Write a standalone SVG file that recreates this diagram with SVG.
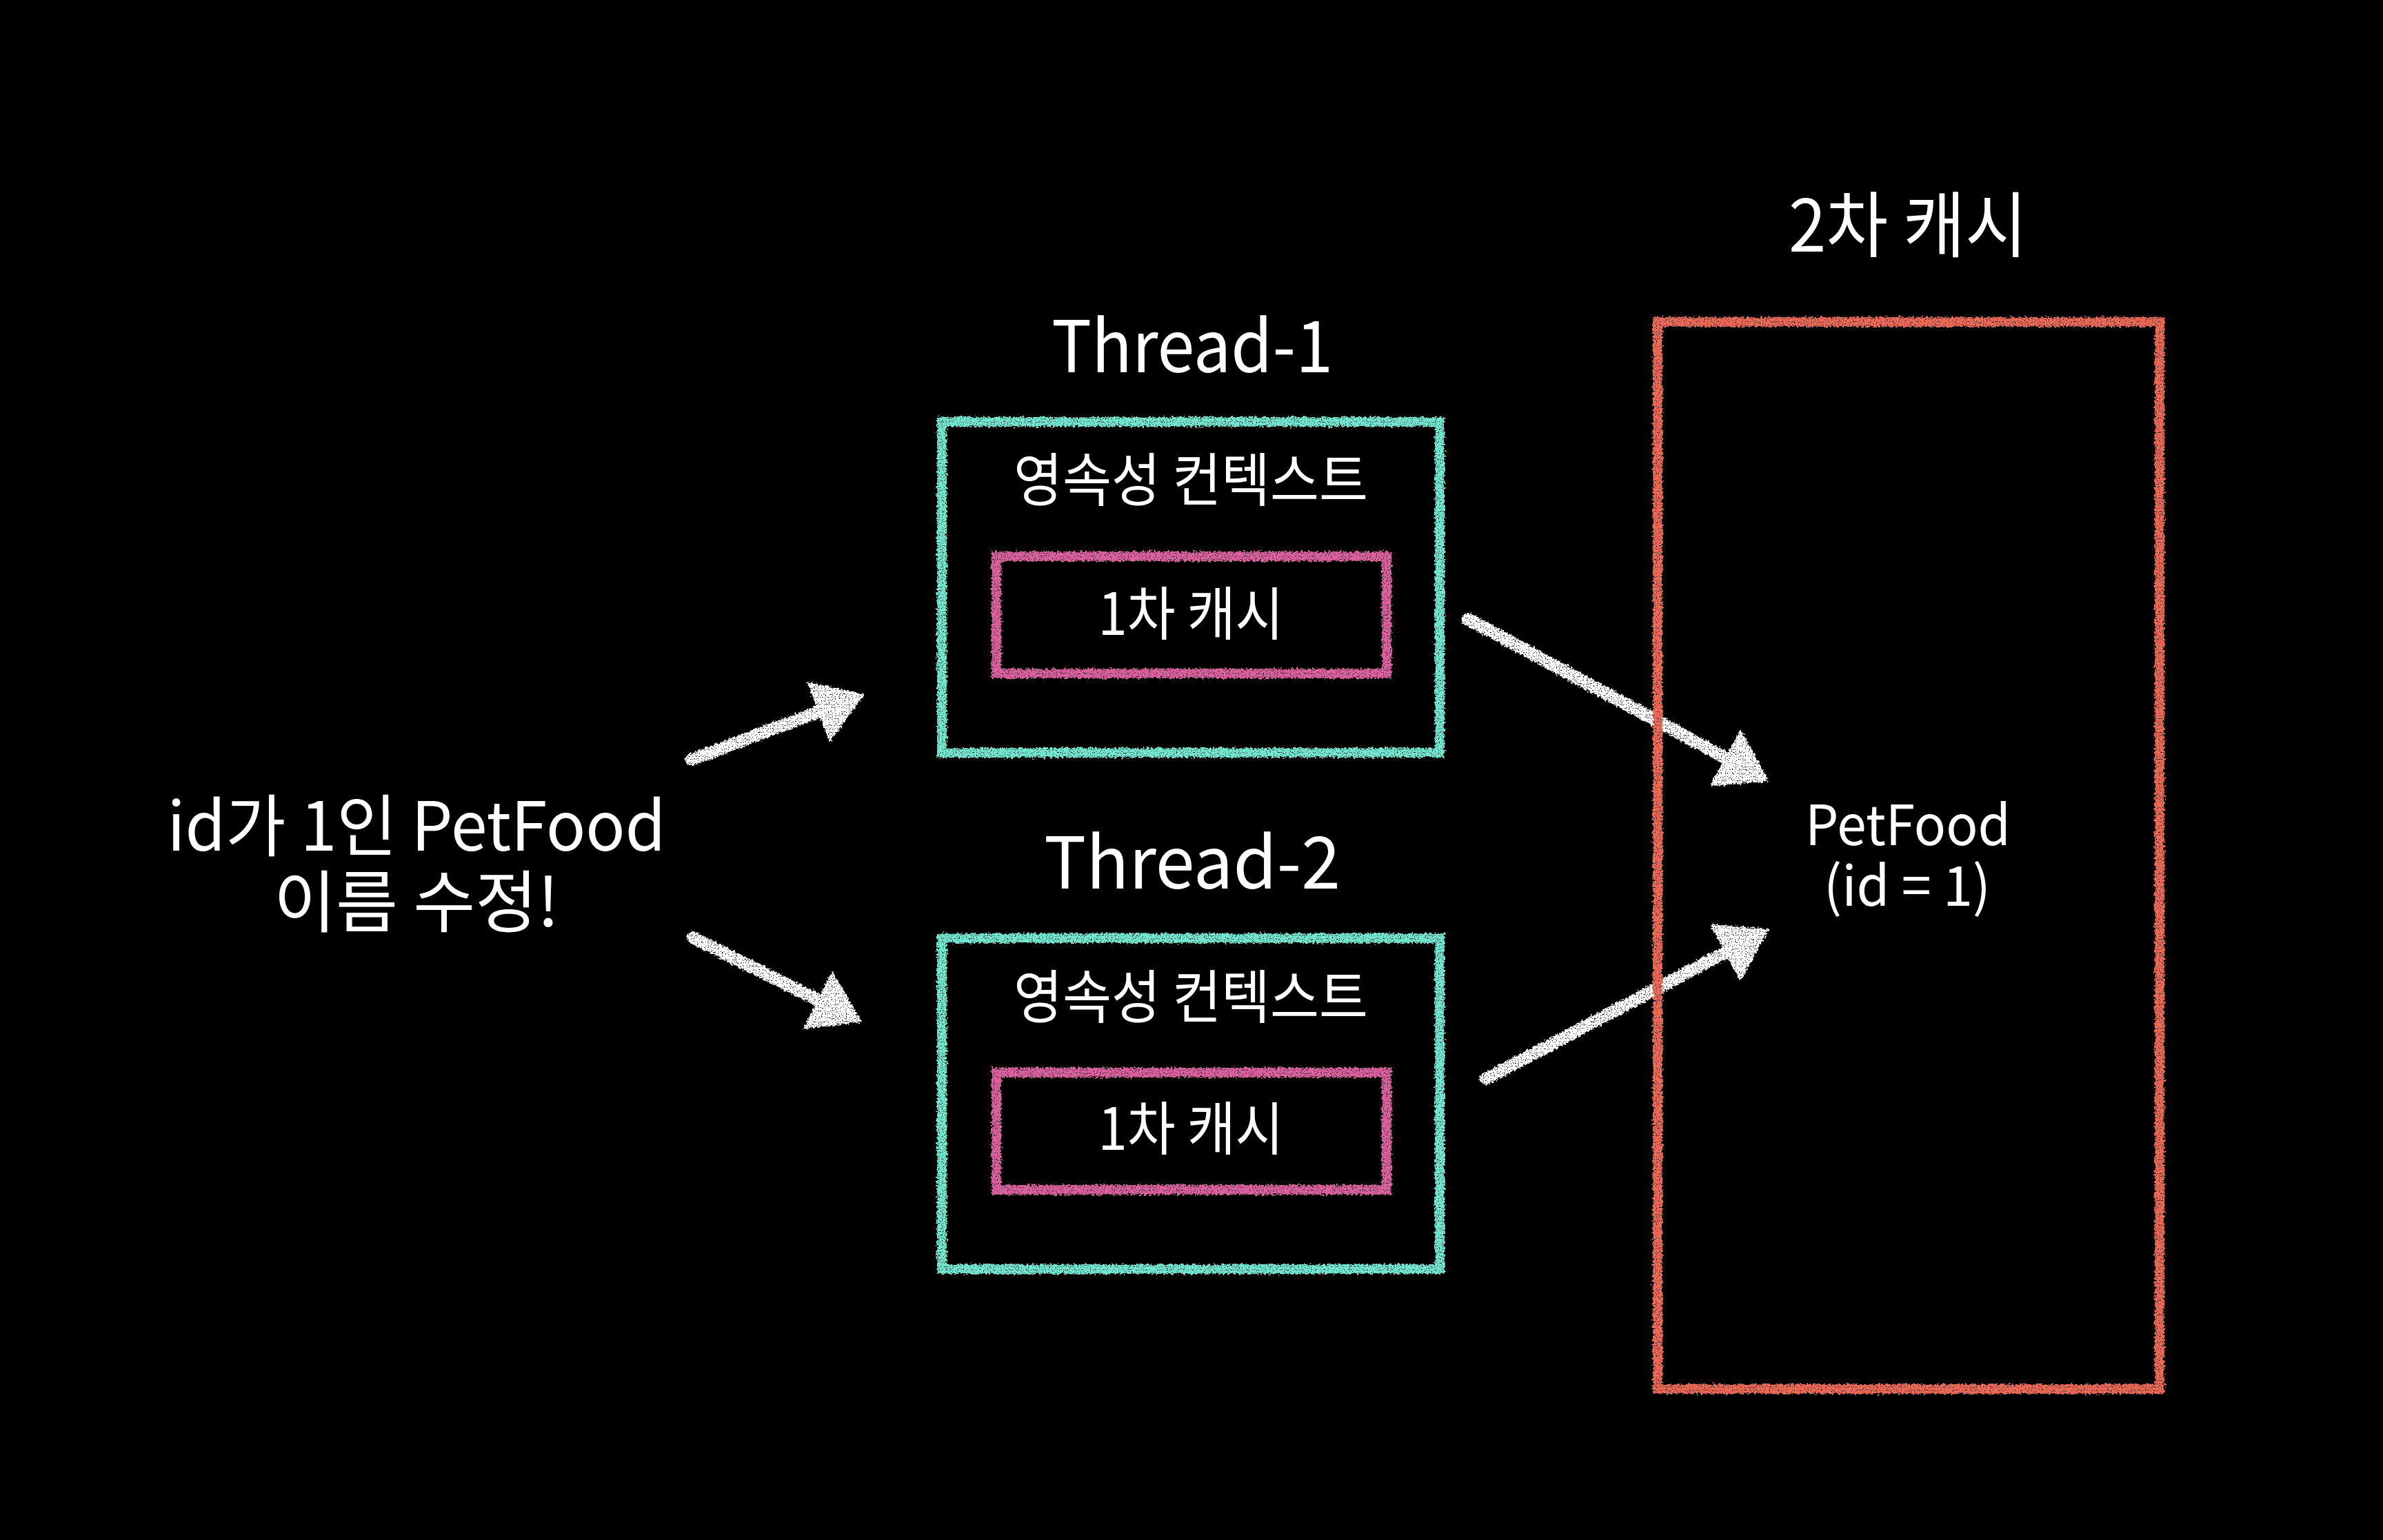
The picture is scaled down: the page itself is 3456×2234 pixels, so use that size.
<svg xmlns="http://www.w3.org/2000/svg" width="3456" height="2234" viewBox="0 0 3456 2234">
<style>
text{font-family:"Noto Sans CJK KR","Noto Sans",sans-serif;fill:#ffffff;text-anchor:middle;font-weight:400}
.title{font-size:104px}
.left{font-size:98px}
.inner{font-size:84px}
.obj{font-size:80px}
.box{fill:none;stroke-width:14;filter:url(#chalk)}
.teal{stroke:#6fe6d0}
.pink{stroke:#da609f}
.red{stroke:#ec6a52}
.arrow{stroke:#ffffff;stroke-width:18;stroke-linecap:round;fill:none;marker-end:url(#head)}
</style>
<defs>
<filter id="chalk" filterUnits="userSpaceOnUse" x="0" y="0" width="3456" height="2234">
<feTurbulence type="fractalNoise" baseFrequency="0.3" numOctaves="2" seed="2" result="warp"/>
<feDisplacementMap in="SourceGraphic" in2="warp" scale="8" xChannelSelector="R" yChannelSelector="G" result="rough"/>
<feTurbulence type="fractalNoise" baseFrequency="0.8" numOctaves="1" seed="5" result="grain"/>
<feColorMatrix in="grain" type="matrix" values="0 0 0 0 1  0 0 0 0 1  0 0 0 0 1  -14 0 0 0 9.6" result="mask"/>
<feComposite in="rough" in2="mask" operator="in"/>
</filter>
<marker id="head" markerUnits="userSpaceOnUse" viewBox="0 0 72 94" markerWidth="72" markerHeight="94" refX="8" refY="47" orient="auto">
<path d="M0,0 L72,47 L0,94 Z" fill="#ffffff"/>
</marker>
</defs>
<rect width="3456" height="2234" fill="#000000"/>

<g id="connectors" filter="url(#chalk)">
<line class="arrow" x1="1003" y1="1102" x2="1194" y2="1030"/>
<line class="arrow" x1="1005" y1="1360" x2="1193" y2="1454"/>
<line class="arrow" x1="2129" y1="898" x2="2509" y2="1103"/>
<line class="arrow" x1="2155" y1="1565" x2="2509" y2="1378"/>
</g>

<g id="request">
<text class="left" x="604" y="1234" textLength="723" lengthAdjust="spacingAndGlyphs">id가 1인 PetFood</text>
<text class="left" x="604" y="1344" textLength="414" lengthAdjust="spacingAndGlyphs">이름 수정!</text>
</g>

<g id="thread1">
<text class="title" x="1729" y="540" textLength="408" lengthAdjust="spacingAndGlyphs">Thread-1</text>
<rect class="box teal" x="1366" y="612" width="722" height="480"/>
<text class="inner" x="1727" y="727" textLength="514" lengthAdjust="spacingAndGlyphs">영속성 컨텍스트</text>
</g>
<g id="cache1">
<rect class="box pink" x="1445" y="807" width="566" height="170"/>
<text class="inner" x="1727" y="921" textLength="269" lengthAdjust="spacingAndGlyphs">1차 캐시</text>
</g>

<g id="thread2">
<text class="title" x="1729" y="1289" textLength="430" lengthAdjust="spacingAndGlyphs">Thread-2</text>
<rect class="box teal" x="1366" y="1361" width="722" height="480"/>
<text class="inner" x="1727" y="1477" textLength="514" lengthAdjust="spacingAndGlyphs">영속성 컨텍스트</text>
</g>
<g id="cache2">
<rect class="box pink" x="1445" y="1556" width="566" height="170"/>
<text class="inner" x="1727" y="1668" textLength="269" lengthAdjust="spacingAndGlyphs">1차 캐시</text>
</g>

<g id="l2cache">
<text class="title" x="2767" y="365" textLength="346" lengthAdjust="spacingAndGlyphs">2차 캐시</text>
<rect class="box red" x="2404" y="467" width="728" height="1548"/>
<text class="obj" x="2767" y="1226" textLength="298" lengthAdjust="spacingAndGlyphs">PetFood</text>
<text class="obj" x="2766" y="1314" textLength="242" lengthAdjust="spacingAndGlyphs">(id = 1)</text>
</g>
</svg>
